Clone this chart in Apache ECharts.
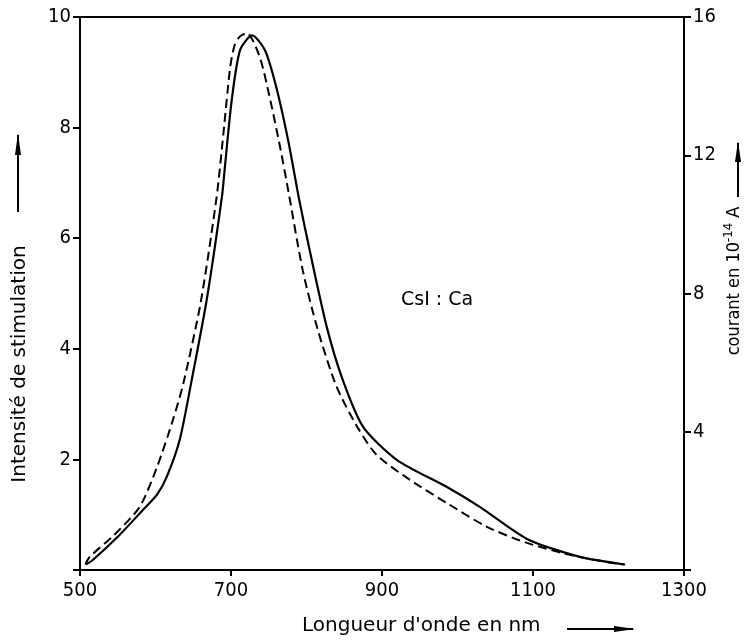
<!DOCTYPE html>
<html>
<head>
<meta charset="utf-8">
<script src="https://cdn.jsdelivr.net/npm/echarts@6/dist/echarts.min.js"></script>
<style>
html, body { margin: 0; padding: 0; background: #fff; }
#chart { width: 748px; height: 643px; }
</style>
</head>
<body>
<div id="chart"></div>
<script>
// wavelength (nm) / value pairs
var stimulation = [ // dashed, left axis
	[507, 0.1], [513, 0.24], [545, 0.63], [579, 1.14], [602, 1.86], [623, 2.71],
	[637, 3.38], [660, 4.85], [681, 6.75], [690, 7.9], [699, 9.1], [705, 9.5],
	[712, 9.65], [721, 9.71], [738, 9.28], [752, 8.5], [765, 7.65], [776, 6.85],
	[795, 5.42], [815, 4.34], [840, 3.31], [868, 2.57], [893, 2.08], [937, 1.63],
	[986, 1.21], [1039, 0.78], [1092, 0.49], [1150, 0.27], [1200, 0.14], [1220, 0.1]
];
var courant = [ // solid, right axis (10^-14 A)
	[508, 0.16], [517, 0.29], [550, 0.96], [583, 1.73], [602, 2.18], [615, 2.7],
	[632, 3.76], [648, 5.5], [668, 7.84], [688, 10.8], [692, 11.68], [701, 13.6],
	[712, 15.04], [728, 15.47], [745, 15.04], [760, 13.97], [776, 12.4], [790, 10.75],
	[805, 9.17], [827, 7.02], [848, 5.5], [875, 4.14], [920, 3.18], [986, 2.4],
	[1030, 1.82], [1092, 0.9], [1162, 0.38], [1222, 0.16]
];
var xTicks = [500, 700, 900, 1100, 1300];
var leftTicks = [2, 4, 6, 8, 10];
var rightTicks = [4, 8, 12, 16];

var numFont = 'DejaVu Sans Condensed';
var font = 'DejaVu Sans';
var chart = echarts.init(document.getElementById('chart'));
var option = {
	backgroundColor: '#fff',
	animation: false,
	grid: {
		left: 80, right: 64, top: 17, bottom: 73,
		show: true, borderColor: '#000', borderWidth: 2
	},
	xAxis: {
		type: 'value', min: 500, max: 1300, interval: 200,
		axisLine: { lineStyle: { color: '#000', width: 2 } },
		axisTick: { show: true, length: 6, lineStyle: { color: '#000', width: 2 } },
		splitLine: { show: false },
		axisLabel: {
			color: '#000', fontFamily: numFont, fontSize: 20, margin: 11,
			formatter: function (v) { return xTicks.indexOf(v) >= 0 ? v : ''; }
		}
	},
	yAxis: [{
		type: 'value', min: 0, max: 10, interval: 2,
		axisLine: { show: true, lineStyle: { color: '#000', width: 2 } },
		axisTick: { show: true, length: 7, lineStyle: { color: '#000', width: 2 } },
		splitLine: { show: false },
		axisLabel: {
			color: '#000', fontFamily: numFont, fontSize: 20, margin: 9,
			formatter: function (v) { return leftTicks.indexOf(v) >= 0 ? v : ''; }
		}
	}, {
		type: 'value', min: 0, max: 16, interval: 4, position: 'right',
		axisLine: { show: true, lineStyle: { color: '#000', width: 2 } },
		axisTick: { show: true, length: 7, lineStyle: { color: '#000', width: 2 } },
		splitLine: { show: false },
		axisLabel: {
			color: '#000', fontFamily: numFont, fontSize: 20, margin: 9,
			formatter: function (v) { return rightTicks.indexOf(v) >= 0 ? v : ''; }
		}
	}],
	series: [{
		name: 'stimulation',
		type: 'line', yAxisIndex: 0, smooth: 0.25, symbol: 'none',
		lineStyle: { color: '#000', width: 2, type: [9, 5] },
		data: stimulation
	}, {
		name: 'courant',
		type: 'line', yAxisIndex: 1, smooth: 0.25, symbol: 'none',
		lineStyle: { color: '#000', width: 2.2 },
		data: courant
	}],
	graphic: [
		{ type: 'text', left: 401, top: 291, style: { text: 'CsI : Ca', fontFamily: font, fontSize: 19, fill: '#000' } },
		{ type: 'text', x: 20, y: 364, rotation: Math.PI / 2,
			style: { text: 'Intensité de stimulation', fontFamily: font, fontSize: 20, fill: '#000', align: 'center', verticalAlign: 'middle' } },
		{ type: 'line', shape: { x1: 18, y1: 212, x2: 18, y2: 135 }, style: { stroke: '#000', lineWidth: 2 } },
		{ type: 'polygon', shape: { points: [[15, 155], [21, 155], [18, 133]] }, style: { fill: '#000' } },
		{ type: 'text', x: 734, y: 281, rotation: Math.PI / 2,
			style: { text: 'courant en 10{sup|-14} A', fontFamily: numFont, fontSize: 18, fill: '#000', align: 'center', verticalAlign: 'middle',
				rich: { sup: { fontFamily: numFont, fontSize: 13, verticalAlign: 'top', padding: [0, 0, 10, 0] } } } },
		{ type: 'line', shape: { x1: 738, y1: 197, x2: 738, y2: 143 }, style: { stroke: '#000', lineWidth: 2 } },
		{ type: 'polygon', shape: { points: [[735, 162], [741, 162], [738, 141]] }, style: { fill: '#000' } },
		{ type: 'text', left: 302, top: 616, style: { text: "Longueur d'onde en nm", fontFamily: font, fontSize: 20, fill: '#000' } },
		{ type: 'line', shape: { x1: 567, y1: 629, x2: 633, y2: 629 }, style: { stroke: '#000', lineWidth: 2 } },
		{ type: 'polygon', shape: { points: [[614, 626], [614, 632], [635, 629]] }, style: { fill: '#000' } }
	]
};
chart.setOption(option);
</script>
</body>
</html>
